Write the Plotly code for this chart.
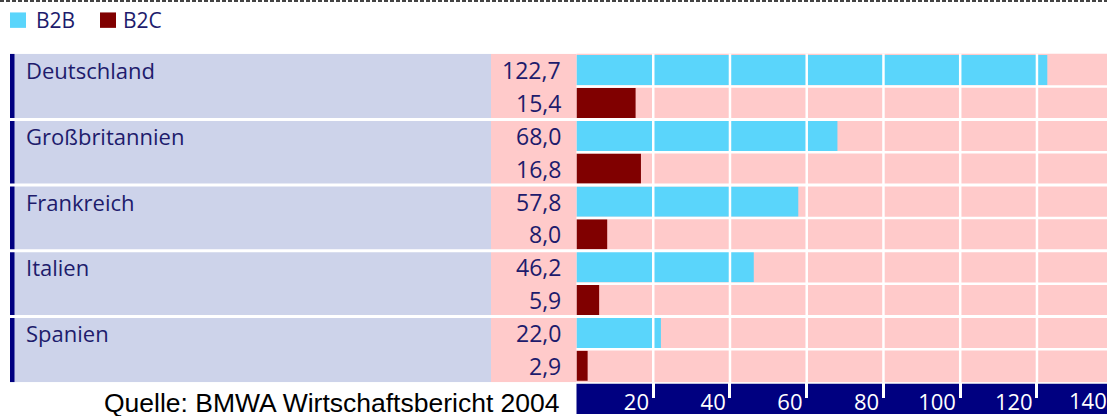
import plotly.graph_objects as go

# ---- data ----
countries = ["Deutschland", "Großbritannien", "Frankreich", "Italien", "Spanien"]
b2b = [122.7, 68.0, 57.8, 46.2, 22.0]
b2c = [15.4, 16.8, 8.0, 5.9, 2.9]
series_names = ["B2B", "B2C"]
tick_vals = [20, 40, 60, 80, 100, 120, 140]
source_text = "Quelle: BMWA Wirtschaftsbericht 2004"

# ---- style ----
W, H = 1107, 416
C_B2B = "#5AD5FB"
C_B2C = "#800000"
C_PINK = "#FFCACA"
C_LAV = "#CDD3EA"
C_NAVY = "#000080"
C_TEXT = "#201B6C"
FONT = "Open Sans"

plot_left_px, plot_top_px, plot_bot_px = 576.5, 54, 384
xd0 = plot_left_px / W
yd0, yd1 = 1 - plot_bot_px / H, 1 - plot_top_px / H
x_max = (W - plot_left_px) / 3.837

def px_x(p):
    return p / W

def px_y(p):
    return 1 - p / H

rows = []
for c in countries:
    rows += [c + "|B2B", c + "|B2C"]
n_rows = len(rows)

fig = go.Figure()
fig.add_trace(go.Bar(y=[c + "|B2B" for c in countries], x=b2b, orientation="h",
                     marker=dict(color=C_B2B, line=dict(width=0)), width=0.92,
                     name=series_names[0], showlegend=False, hoverinfo="x"))
fig.add_trace(go.Bar(y=[c + "|B2C" for c in countries], x=b2c, orientation="h",
                     marker=dict(color=C_B2C, line=dict(width=0)), width=0.92,
                     name=series_names[1], showlegend=False, hoverinfo="x"))

shapes = []
# left label panel, navy strip and value column
shapes.append(dict(type="rect", xref="paper", yref="y", x0=px_x(10), x1=px_x(491),
                   y0=-0.5, y1=n_rows - 0.5, fillcolor=C_LAV, line_width=0, layer="below"))
shapes.append(dict(type="rect", xref="paper", yref="y", x0=px_x(10), x1=px_x(14.5),
                   y0=-0.5, y1=n_rows - 0.5, fillcolor=C_NAVY, line_width=0, layer="below"))
shapes.append(dict(type="rect", xref="paper", yref="y", x0=px_x(491), x1=xd0,
                   y0=-0.5, y1=n_rows - 0.5, fillcolor=C_PINK, line_width=0, layer="below"))
# axis band
shapes.append(dict(type="rect", xref="paper", yref="paper", x0=xd0, x1=1,
                   y0=0, y1=px_y(385.5), fillcolor=C_NAVY, line_width=0, layer="below"))
# vertical gridlines over bars
for t in tick_vals:
    shapes.append(dict(type="line", xref="x", yref="paper", x0=t, x1=t, y0=yd0, y1=yd1,
                       line=dict(color="white", width=2.5), layer="above"))
# row separators (plot area) and group separators (full width)
for i in range(1, n_rows):
    if i % 2 == 0:
        shapes.append(dict(type="line", xref="paper", yref="y", x0=px_x(10), x1=1,
                           y0=i - 0.5, y1=i - 0.5, line=dict(color="white", width=3), layer="above"))
    else:
        shapes.append(dict(type="line", xref="paper", yref="y", x0=xd0, x1=1,
                           y0=i - 0.5, y1=i - 0.5, line=dict(color="white", width=2.5), layer="above"))
# top dashed rule
shapes.append(dict(type="line", xref="paper", yref="paper", x0=0, x1=1, y0=px_y(1), y1=px_y(1),
                   line=dict(color="#444444", width=2, dash="4px,2px")))
# legend squares
for name, col, x0 in [(series_names[0], C_B2B, 10), (series_names[1], C_B2C, 100)]:
    shapes.append(dict(type="rect", xref="paper", yref="paper", x0=px_x(x0), x1=px_x(x0 + 16),
                       y0=px_y(28), y1=px_y(12.5), fillcolor=col, line_width=0))

annotations = []
for name, x0 in [(series_names[0], 34), (series_names[1], 121)]:
    annotations.append(dict(text=name, xref="paper", yref="paper", x=px_x(x0), y=px_y(20.5),
                            xanchor="left", yanchor="middle", showarrow=False,
                            font=dict(family=FONT, size=21, color=C_TEXT)))
for c, v1, v2 in zip(countries, b2b, b2c):
    annotations.append(dict(text=c, xref="paper", yref="y", x=px_x(24), y=c + "|B2B",
                            xanchor="left", yanchor="middle", showarrow=False,
                            font=dict(family=FONT, size=22, color=C_TEXT)))
    for key, v in [(c + "|B2B", v1), (c + "|B2C", v2)]:
        annotations.append(dict(text=f"{v:.1f}".replace(".", ","), xref="paper", yref="y",
                                x=px_x(563), y=key, xanchor="right", yanchor="middle",
                                showarrow=False, font=dict(family=FONT, size=23, color=C_TEXT)))
# tick label beyond the visible range (140)
t_last = tick_vals[-1]
annotations.append(dict(text=str(t_last), xref="paper", yref="paper",
                        x=xd0 + (t_last / x_max) * (1 - xd0) - px_x(5), y=px_y(402),
                        xanchor="right", yanchor="middle", showarrow=False,
                        font=dict(family=FONT, size=22, color="white")))
annotations.append(dict(text=source_text, xref="paper", yref="paper", x=px_x(562), y=px_y(404.5),
                        xanchor="right", yanchor="middle", showarrow=False,
                        font=dict(family="Liberation Sans, Arial", size=26.5, color="black")))

fig.update_layout(
    width=W, height=H, autosize=False,
    margin=dict(l=0, r=0, t=0, b=0, pad=0),
    paper_bgcolor="white", plot_bgcolor=C_PINK,
    barmode="overlay", showlegend=False,
    shapes=shapes, annotations=annotations,
    xaxis=dict(domain=[xd0, 1], range=[0, x_max], tickvals=tick_vals[:-1],
               showgrid=False, zeroline=False, showline=False,
               ticks="outside", ticklen=15, tickwidth=2.5, tickcolor="white",
               ticklabelposition="outside left", ticklabelshift=-3,
               tickfont=dict(family=FONT, size=22, color="white"), fixedrange=True),
    yaxis=dict(domain=[yd0, yd1], type="category", categoryorder="array", categoryarray=rows,
               range=[n_rows - 0.5, -0.5], showticklabels=False, showgrid=False,
               zeroline=False, showline=False, ticks="", fixedrange=True),
)

fig.write_html("out.html", config={"displayModeBar": False},
               post_script="document.body.style.margin='0';document.body.style.overflow='hidden';")
